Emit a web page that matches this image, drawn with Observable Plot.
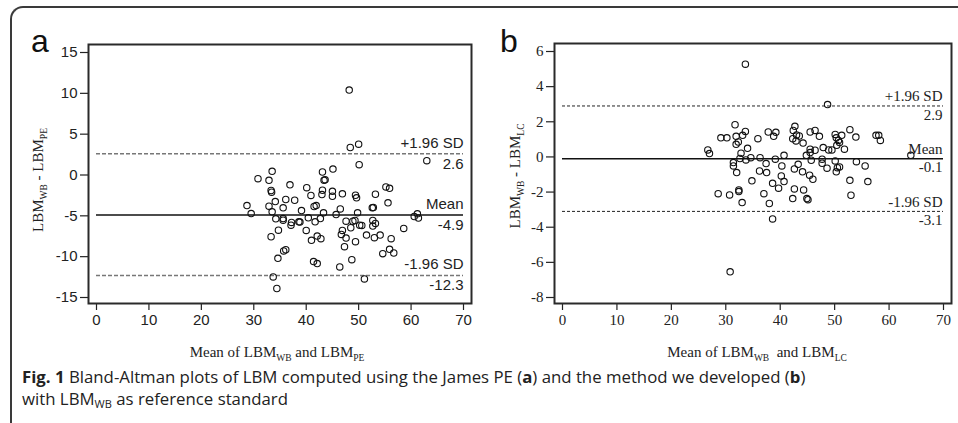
<!DOCTYPE html>
<html>
<head>
<meta charset="utf-8">
<script src="https://cdn.jsdelivr.net/npm/d3@7"></script>
<script src="https://cdn.jsdelivr.net/npm/@observablehq/plot@0.6"></script>
<style>
  body { margin: 0; background: #fff; }
  #fig { position: relative; width: 958px; height: 423px; overflow: hidden; background: #fff; }
  #border { position: absolute; left: 10px; top: 6px; width: 1200px; height: 800px;
            border-left: 2px solid #3a3a3a; border-top: 2px solid #3a3a3a; border-top-left-radius: 13px; }
  .panel { position: absolute; top: 0; }
  .tag { position: absolute; font-family: "Liberation Sans", Arial, sans-serif; font-size: 32px; line-height: 32px; color: #111; }
  #caption { position: absolute; left: 22px; top: 366px; font-family: "Open Sans", sans-serif; font-size: 16.8px;
             line-height: 22px; color: #222; white-space: nowrap; }
  #caption sub { font-size: 11px; vertical-align: -3px; line-height: 0; }
</style>
</head>
<body>
<div id="fig">
  <div id="border"></div>
  <div class="tag" style="left:31px;top:25px">a</div>
  <div class="tag" style="left:500px;top:25px">b</div>
  <div class="panel" id="pa" style="left:0px"></div>
  <div class="panel" id="pb" style="left:480px"></div>
  <div id="caption"><b>Fig. 1</b> Bland-Altman plots of LBM computed using the James PE (<b>a</b>) and the method we developed (<b>b</b>)<br>with LBM<sub>WB</sub> as reference standard</div>
</div>
<script>
// ---------- Data ----------
const xTicks = [0, 10, 20, 30, 40, 50, 60, 70];

// Panel a: mean of LBM_WB and LBM_PE vs difference
const aMean = [48.2, 48.4, 50.0, 63.0, 50.1, 30.8, 33.5, 32.9, 33.3, 33.4, 36.9, 40.1, 40.9, 43.1, 43.6, 43.4, 43.1, 43.0,
  45.1, 45.0, 45.0, 46.9, 49.4, 49.6, 53.2, 55.2, 55.9, 55.6, 52.6, 52.8, 61.2, 61.4, 60.6, 58.6, 56.2, 55.9, 56.7, 54.6,
  54.1, 53.0, 53.2, 52.7, 52.7, 51.5, 50.6, 50.2, 49.8, 49.3, 48.9, 48.5, 49.4, 47.6, 48.7, 51.1, 46.4, 47.3, 47.6, 46.7,
  46.9, 45.7, 46.5, 43.3, 42.7, 41.5, 41.9, 41.7, 40.4, 40.0, 39.1, 38.8, 38.6, 37.8, 36.1, 35.6, 35.6, 35.6, 37.1, 37.2,
  34.1, 32.9, 33.5, 34.2, 34.7, 33.3, 41.0, 42.1, 42.8, 36.1, 35.7, 34.6, 41.4, 42.1, 33.7, 34.4, 28.7, 29.5];
const aDiff = [10.4, 3.37, 3.78, 1.75, 1.26, -0.45, 0.45, -0.65, -1.9, -2.1, -1.2, -1.55, -2.5, 0.37, -0.57, -0.65, -1.87, -2.4,
  0.73, -2.0, -2.6, -2.3, -2.48, -2.8, -2.36, -1.46, -1.63, -3.41, -4.02, -3.98, -4.76, -5.28, -5.08, -6.54, -7.8, -9.1, -9.55, -9.63,
  -7.36, -7.68, -5.93, -6.26, -5.57, -7.36, -6.18, -6.14, -4.63, -5.57, -5.65, -6.46, -8.17, -5.65, -10.37, -12.72, -11.26, -8.78, -7.72, -7.28,
  -6.79, -4.84, -4.15, -4.63, -5.33, -3.86, -3.74, -5.73, -5.24, -6.79, -4.35, -5.77, -5.73, -3.09, -3.0, -4.02, -5.53, -5.33, -6.14, -5.81,
  -3.25, -3.82, -4.51, -5.37, -6.75, -7.56, -8.0, -7.48, -7.8, -9.15, -9.3, -10.2, -10.6, -10.85, -12.48, -13.9, -3.74, -4.72];
const aYTicks = [-15, -10, -5, 0, 5, 10, 15];
const aLimitLabels = ["+1.96 SD", "Mean", "-1.96 SD"];
const aLimitValues = [2.6, -4.9, -12.3];

// Panel b: mean of LBM_WB and LBM_LC vs difference
const bMean = [33.6, 48.7, 31.7, 29.1, 30.2, 31.9, 32.3, 31.9, 33.1, 33.6, 35.9, 37.8, 38.8, 39.2, 42.7, 42.4, 43.0, 43.5,
  42.3, 42.9, 44.2, 45.5, 46.4, 47.2, 50.1, 50.3, 51.3, 50.7, 52.8, 53.9, 57.6, 58.1, 58.4, 26.7, 27.0, 34.0, 32.8, 32.6,
  33.7, 34.6, 36.3, 31.4, 31.4, 32.0, 37.4, 36.2, 37.5, 39.1, 40.3, 40.7, 40.2, 40.7, 34.8, 38.6, 39.7, 32.4, 32.4, 28.6,
  30.7, 37.0, 33.0, 38.0, 38.6, 30.8, 43.3, 42.6, 44.1, 45.4, 46.0, 42.6, 44.3, 42.3, 44.9, 45.1, 44.8, 45.5, 45.5, 45.7,
  46.4, 47.9, 47.7, 47.7, 48.6, 48.9, 49.5, 50.1, 50.4, 50.9, 51.8, 50.9, 50.5, 50.3, 52.8, 53.0, 54.0, 55.6, 56.1, 64.0];
const bDiff = [5.28, 2.98, 1.83, 1.09, 1.09, 1.17, 0.85, 0.72, 1.23, 1.45, 1.04, 1.42, 1.17, 1.4, 1.74, 1.51, 1.25, 1.19,
  1.04, 0.91, 0.79, 1.42, 1.51, 1.17, 1.28, 1.09, 1.23, 0.94, 1.55, 1.13, 1.23, 1.23, 0.94, 0.40, 0.19, 0.49, 0.21, -0.09,
  -0.17, -0.04, -0.04, -0.32, -0.51, -0.89, -0.38, -0.8, -0.89, -0.13, -0.51, 0.09, -1.08, -1.4, -1.36, -1.5, -1.78, -1.88, -1.97, -2.09,
  -2.16, -2.09, -2.6, -2.65, -3.53, -6.54, -0.42, -0.68, -0.85, -1.04, -1.27, -1.82, -1.88, -2.37, -2.37, -2.43, 0.09, 0.25, 0.44, -0.19,
  0.38, 0.53, -0.13, -0.36, -0.64, 0.40, 0.40, -0.23, 0.66, 0.82, 0.44, -0.57, -0.61, -0.85, -1.33, -2.18, -0.27, -0.51, -1.40, 0.09];
const bYTicks = [-8, -6, -4, -2, 0, 2, 4, 6];
const bLimitLabels = ["+1.96 SD", "Mean", "-1.96 SD"];
const bLimitValues = [2.9, -0.1, -3.1];

// ---------- Drawing ----------
function addRichText(svg, parts, cfg) {
  const t = d3.select(svg).append("text")
    .attr("transform", `translate(${cfg.x},${cfg.y}) rotate(${cfg.rotate || 0})`)
    .attr("text-anchor", "middle")
    .attr("font-family", cfg.font)
    .attr("font-size", cfg.size)
    .attr("fill", "#222");
  let shifted = false;
  parts.forEach(([s, sub]) => {
    const sp = t.append("tspan").text(s);
    if (sub && !shifted) { sp.attr("dy", 3.5).attr("font-size", cfg.subSize); shifted = true; }
    else if (sub) { sp.attr("font-size", cfg.subSize); }
    else if (shifted) { sp.attr("dy", -3.5); shifted = false; }
  });
}

function makePanel(cfg) {
  const data = cfg.xs.map((x, i) => ({x, y: cfg.ys[i]}));
  const limits = cfg.labels.map((label, i) => ({label, value: cfg.values[i], mean: label === "Mean"}));
  const fmt = d => String(d);
  const svg = Plot.plot({
    width: cfg.width, height: 370,
    marginLeft: cfg.marginLeft, marginRight: cfg.marginRight, marginTop: cfg.marginTop, marginBottom: 67,
    insetLeft: cfg.insetLeft, insetRight: cfg.insetRight, insetTop: cfg.insetTop, insetBottom: cfg.insetBottom,
    x: {domain: [0, 70]},
    y: {domain: cfg.yDomain},
    style: {fontFamily: cfg.font, fontSize: cfg.fontSize, color: "#222", background: "transparent", overflow: "visible"},
    marks: [
      Plot.axisX(xTicks, {tickSize: 7, tickPadding: 4, tickFormat: fmt, label: null, stroke: "#222", strokeWidth: 1.2}),
      Plot.axisY(cfg.yTicks, {tickSize: 8, tickPadding: 3, tickFormat: fmt, label: null, stroke: "#222", strokeWidth: 1.2}),
      Plot.ruleY(limits.filter(d => !d.mean), {y: "value", x1: 0, x2: 70, stroke: cfg.dashColor, strokeWidth: cfg.dashWidth, strokeDasharray: cfg.dash}),
      Plot.ruleY(limits.filter(d => d.mean), {y: "value", x1: 0, x2: 70, stroke: "#111", strokeWidth: 1.6}),
      Plot.dot(data, {x: "x", y: "y", r: 3.2, stroke: "#111", strokeWidth: 1.1, fill: "none"}),
      Plot.text(limits, {x: 70, y: "value", text: "label", textAnchor: "end", dy: cfg.dyUp, dx: cfg.dx, fill: "#222"}),
      Plot.text(limits, {x: 70, y: "value", text: d => d.value.toFixed(1), textAnchor: "end", dy: cfg.dyDown, dx: cfg.dx, fill: "#222"}),
      Plot.frame({stroke: "#2a2a2a", strokeWidth: 2})
    ]
  });
  addRichText(svg, cfg.yLabel, {x: cfg.yLabelX, y: cfg.yLabelY, rotate: -90, font: cfg.labelFont, size: 15, subSize: 9.5});
  addRichText(svg, cfg.xLabel, {x: cfg.xLabelX, y: 357, font: cfg.labelFont, size: 15, subSize: 9.5});
  return svg;
}

const serif = "'Liberation Serif', 'Times New Roman', serif";
const sans = "'Liberation Sans', Arial, Helvetica, sans-serif";

document.getElementById("pa").appendChild(makePanel({
  xs: aMean, ys: aDiff, labels: aLimitLabels, values: aLimitValues, yTicks: aYTicks, yDomain: [-15, 15],
  width: 480, marginLeft: 88, marginRight: 9, marginTop: 44,
  insetLeft: 8, insetRight: 8, insetTop: 8, insetBottom: 6,
  font: sans, fontSize: "15px", dashColor: "#777", dashWidth: 1.5, dash: "4,2",
  dyUp: -11, dyDown: 10, dx: 0,
  labelFont: serif,
  yLabel: [["LBM"], ["WB", true], [" - LBM"], ["PE", true]], yLabelX: 43, yLabelY: 180,
  xLabel: [["Mean of LBM"], ["WB", true], [" and LBM"], ["PE", true]], xLabelX: 277
}));

document.getElementById("pb").appendChild(makePanel({
  xs: bMean, ys: bDiff, labels: bLimitLabels, values: bLimitValues, yTicks: bYTicks, yDomain: [-8, 6],
  width: 478, marginLeft: 74, marginRight: 7, marginTop: 43,
  insetLeft: 8, insetRight: 8, insetTop: 8, insetBottom: 6,
  font: serif, fontSize: "15px", dashColor: "#222", dashWidth: 1, dash: "3,2",
  dyUp: -9.5, dyDown: 9, dx: -1,
  labelFont: serif,
  yLabel: [["LBM"], ["WB", true], [" - LBM"], ["LC", true]], yLabelX: 40, yLabelY: 176,
  xLabel: [["Mean of LBM"], ["WB", true], ["  and LBM"], ["LC", true]], xLabelX: 277
}));
</script>
</body>
</html>
